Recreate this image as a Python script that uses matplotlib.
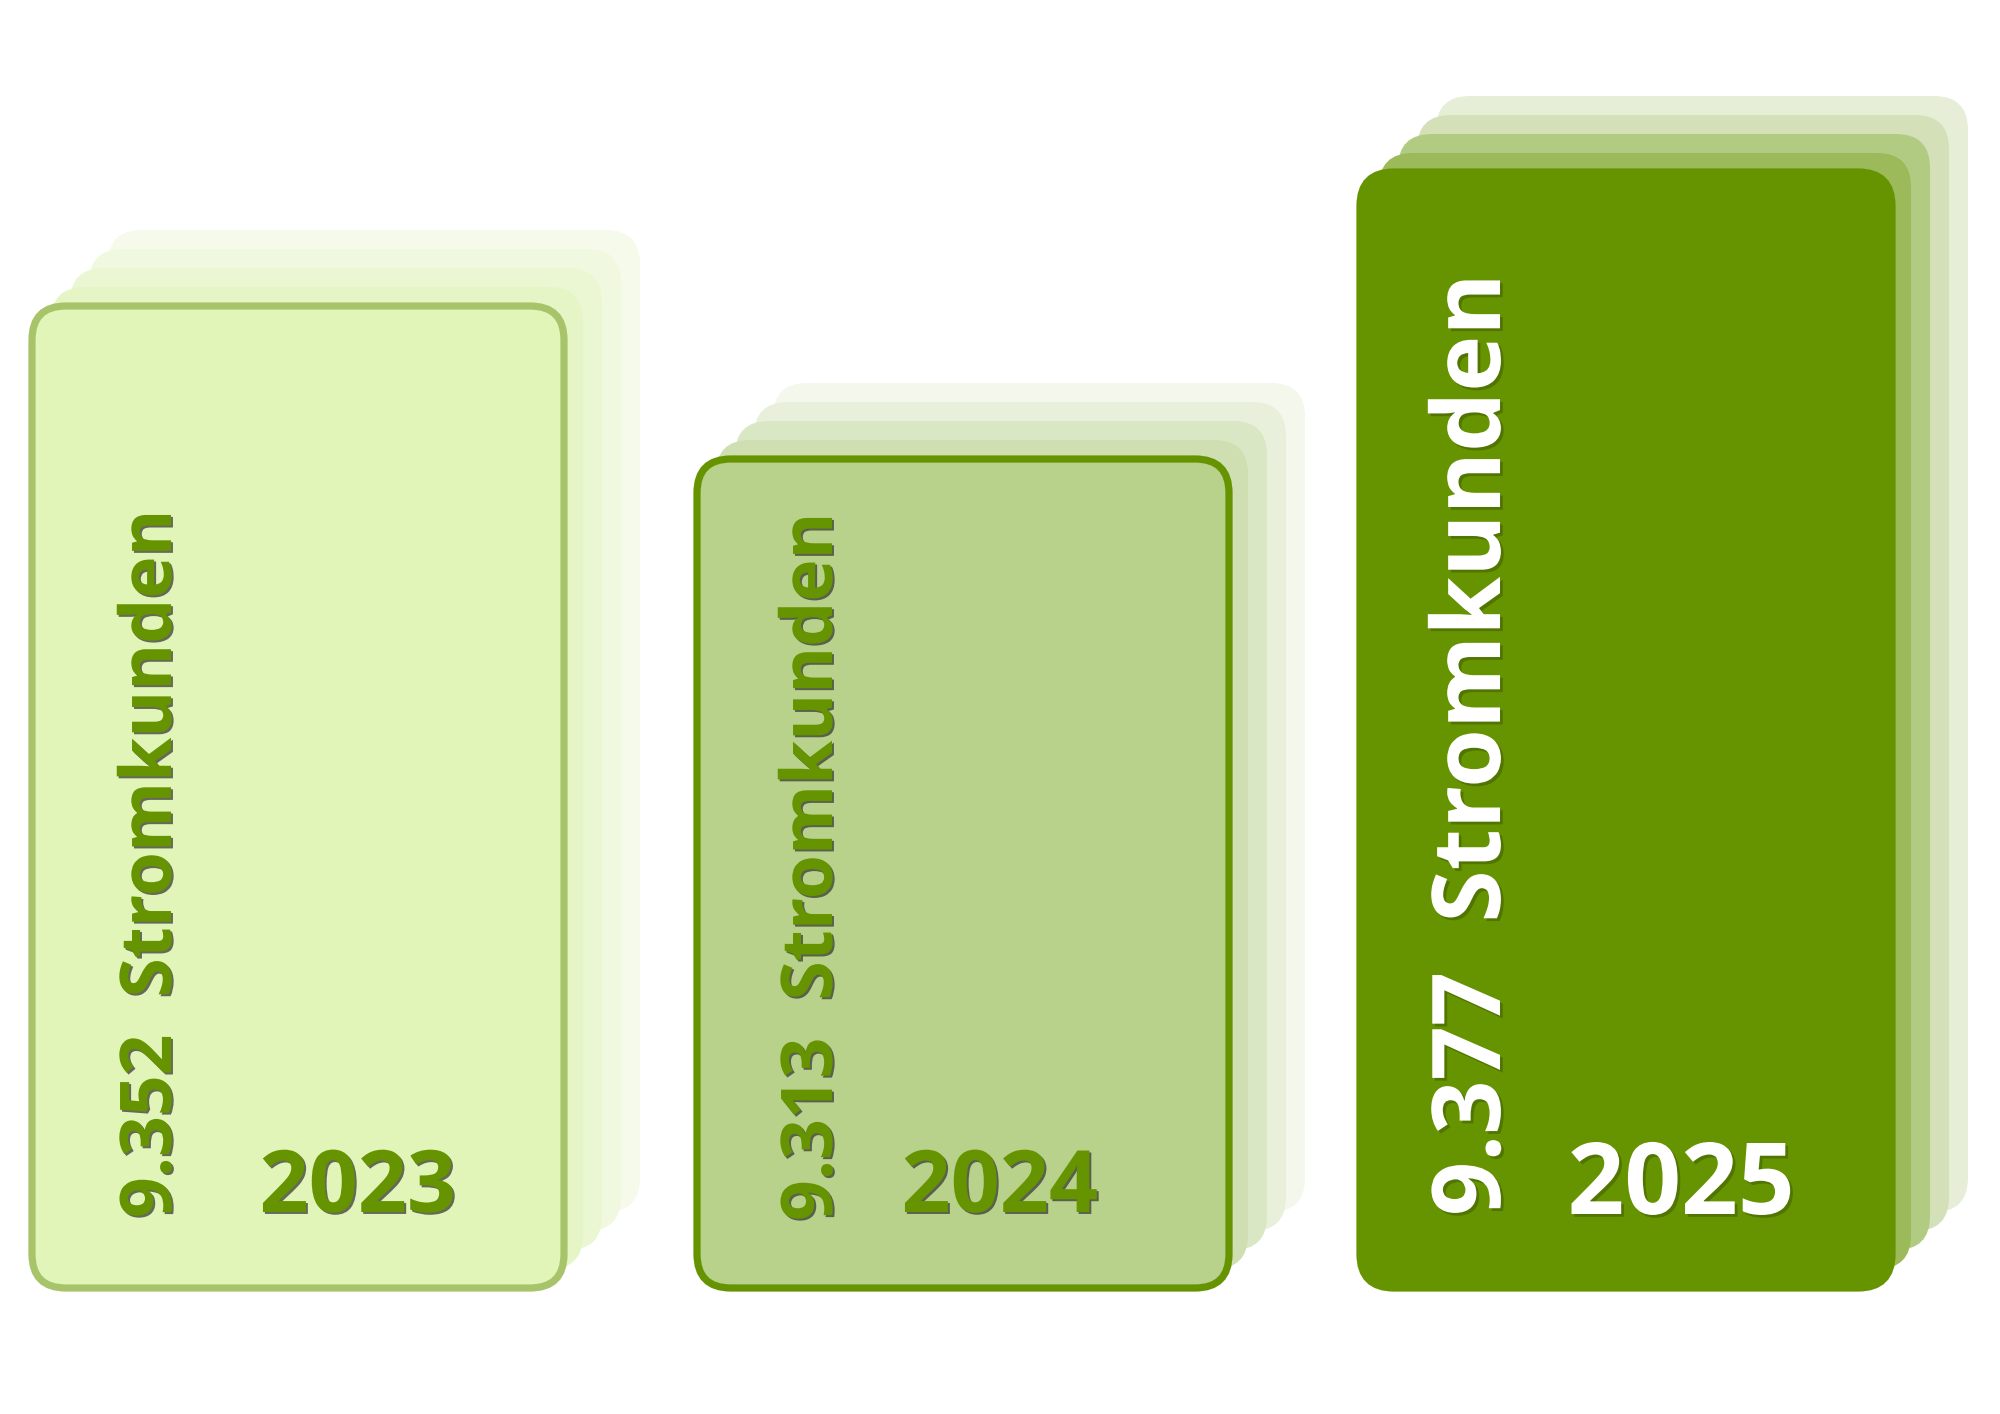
import matplotlib
matplotlib.use("Agg")
import matplotlib.pyplot as plt
from matplotlib.patches import FancyBboxPatch
import matplotlib.patheffects as pe

# ---------------- data ----------------
years = ["2023", "2024", "2025"]
customers = [9352, 9313, 9377]
unit_label = "Stromkunden"

# ---------------- layout / style ----------------
W, H = 2000, 1414
card_left = [32, 697, 1360]
card_width = 532
card_heights = [982, 829, 1116]
baseline = 1288
n_back = 4
stack_step = 19
radius = 34

front_fill = ["#E2F5B9", "#B8D18B", "#669400"]
front_edge = ["#A8C46A", "#669400", "#669400"]
edge_lw = 2.6
back_fill = [
    ["#E6F5C6", "#EBF7D3", "#F0F9E0", "#F5FAEB"],
    ["#CFDFB1", "#DAE7C4", "#E8F0DB", "#F3F7EC"],
    ["#9CBA5A", "#B2CB82", "#D3E0B8", "#E6EED8"],
]
text_color = ["#669400", "#669400", "#FFFFFF"]
label_size = [25.7, 25.7, 34.2]
year_size = [31.0, 31.0, 35.8]
label_dx = [139, 135, 140]     # baseline x of vertical label, from card left
label_y = [1218, 1221, 1216]   # start of vertical label
year_dx = [326, 303, 321]      # year centre x, from card left
year_y = [1212, 1212, 1214]    # year baseline

plt.rcParams["font.family"] = ["Open Sans", "DejaVu Sans"]

fig = plt.figure(figsize=(W / 200, H / 200), dpi=200)
ax = fig.add_axes([0, 0, 1, 1])
ax.set_xlim(0, W)
ax.set_ylim(H, 0)
ax.axis("off")

for i, (yr, val) in enumerate(zip(years, customers)):
    top = baseline - card_heights[i]
    # back layers, farthest first
    for k in range(n_back, 0, -1):
        p = FancyBboxPatch((card_left[i] + k * stack_step, top - k * stack_step),
                           card_width, card_heights[i],
                           boxstyle=f"round,pad=0,rounding_size={radius}",
                           facecolor=back_fill[i][k - 1], edgecolor="none", zorder=1)
        ax.add_patch(p)
    p = FancyBboxPatch((card_left[i], top), card_width, card_heights[i],
                       boxstyle=f"round,pad=0,rounding_size={radius}",
                       facecolor=front_fill[i], edgecolor=front_edge[i],
                       linewidth=edge_lw, zorder=2)
    ax.add_patch(p)

    if i < 2:
        effects = [pe.withSimplePatchShadow(offset=(0.7, -0.7), shadow_rgbFace="#3a3a3a", alpha=0.75)]
    else:
        effects = [pe.withSimplePatchShadow(offset=(1.0, -1.0), shadow_rgbFace="#2f4700", alpha=0.4)]

    label = f"{val:,}".replace(",", ".") + "  " + unit_label
    ax.text(card_left[i] + label_dx[i], label_y[i], label, rotation=90,
            rotation_mode="anchor", ha="left", va="baseline",
            fontsize=label_size[i], fontweight="bold",
            color=text_color[i], zorder=3, path_effects=effects)
    ax.text(card_left[i] + year_dx[i], year_y[i], yr, ha="center", va="baseline",
            fontsize=year_size[i], fontweight="bold",
            color=text_color[i], zorder=3, path_effects=effects)

fig.savefig("out.png", dpi=200, facecolor="white")
